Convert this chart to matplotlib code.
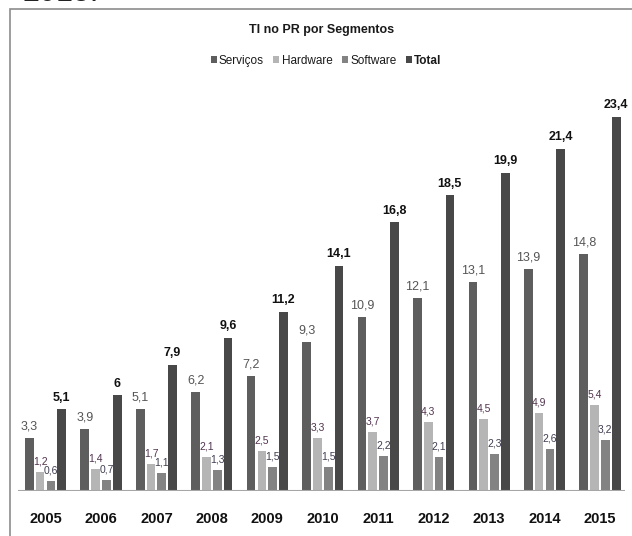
import matplotlib
matplotlib.use("Agg")
import matplotlib.pyplot as plt
from matplotlib.patches import Rectangle
from matplotlib import font_manager as fm
import numpy as np

names = {f.name for f in fm.fontManager.ttflist}
narrow = 'Liberation Sans Narrow' if 'Liberation Sans Narrow' in names else 'Liberation Sans'
plt.rcParams['font.family'] = [narrow, 'DejaVu Sans']

years = ['2005', '2006', '2007', '2008', '2009', '2010', '2011', '2012', '2013', '2014', '2015']
servicos = [3.3, 3.9, 5.1, 6.2, 7.2, 9.3, 10.9, 12.1, 13.1, 13.9, 14.8]
hardware = [1.2, 1.4, 1.7, 2.1, 2.5, 3.3, 3.7, 4.3, 4.5, 4.9, 5.4]
software = [0.6, 0.7, 1.1, 1.3, 1.5, 1.5, 2.2, 2.1, 2.3, 2.6, 3.2]
total = [5.1, 6, 7.9, 9.6, 11.2, 14.1, 16.8, 18.5, 19.9, 21.4, 23.4]
series_names = ['Serviços', 'Hardware', 'Software', 'Total']

colors = ['#5e5e5e', '#b5b5b5', '#838383', '#484848']
label_colors = ['#555555', '#50344f', '#3f3f52', '#111111']
label_sizes = [9, 7.5, 7.5, 9]
label_weights = ['normal', 'normal', 'normal', 'bold']

W, H = 632, 536
fig = plt.figure(figsize=(W / 100, H / 100), dpi=100)

# frame of the chart area
fig.patches.append(Rectangle((10 / W, -0.1), 1.0, (H - 9) / H + 0.1, transform=fig.transFigure,
                             fill=False, edgecolor='#8c8c8c', linewidth=1.2))
fig.text(22 / W, (H + 7) / H, '2015.', fontsize=22, color='#222222',
         family=['Liberation Sans', 'DejaVu Sans'], ha='left', va='center')

ax_left, ax_right = 18, 625
base_y = 491
top_y = 117  # pixel y of 23.4
ax = fig.add_axes([ax_left / W, (H - base_y) / H, (ax_right - ax_left) / W, (base_y - 60) / H])
px_per_unit = (base_y - top_y) / 23.4
ax.set_ylim(0, (base_y - 60) / px_per_unit)

spacing = 55.45
c0 = 45.5
ax.set_xlim((ax_left - c0) / spacing, (ax_right - c0) / spacing)

x = np.arange(len(years))
pitch = 10.8 / spacing
width = 8.7 / spacing
data = [servicos, hardware, software, total]
for k, (vals, col) in enumerate(zip(data, colors)):
    off = (k - 1.5) * pitch
    ax.bar(x + off, vals, width=width, color=col, label=series_names[k], zorder=2)
    for xi, v in zip(x, vals):
        txt = (f'{v:.1f}'.replace('.', ',') if v != int(v) or k != 3 else str(int(v)))
        ax.annotate(txt, (xi + off, v), xytext=(0, 4), textcoords='offset points',
                    ha='center', va='bottom', fontsize=label_sizes[k],
                    color=label_colors[k], fontweight=label_weights[k])

for s in ax.spines.values():
    s.set_visible(False)
ax.axhline(0, color='#a6a6a6', linewidth=1.5, zorder=3)
ax.set_yticks([])
ax.set_xticks(x)
ax.set_xticklabels(years, fontsize=10.5, fontweight='bold', color='#111111')
ax.tick_params(axis='x', length=0, pad=15)

fig.text(322 / W, (H - 30) / H, 'TI no PR por Segmentos', ha='center', va='center',
         fontsize=9, fontweight='bold', color='#1a1a1a')
leg = fig.legend(loc='center', bbox_to_anchor=(326 / W, (H - 61) / H), ncol=4, frameon=False,
                 fontsize=8.5, handlelength=0.5, handleheight=0.55, handletextpad=0.2,
                 columnspacing=0.8)
for t in leg.get_texts():
    t.set_color('#1a1a1a')
leg.get_texts()[3].set_fontweight('bold')

fig.savefig('out.png', dpi=100)
